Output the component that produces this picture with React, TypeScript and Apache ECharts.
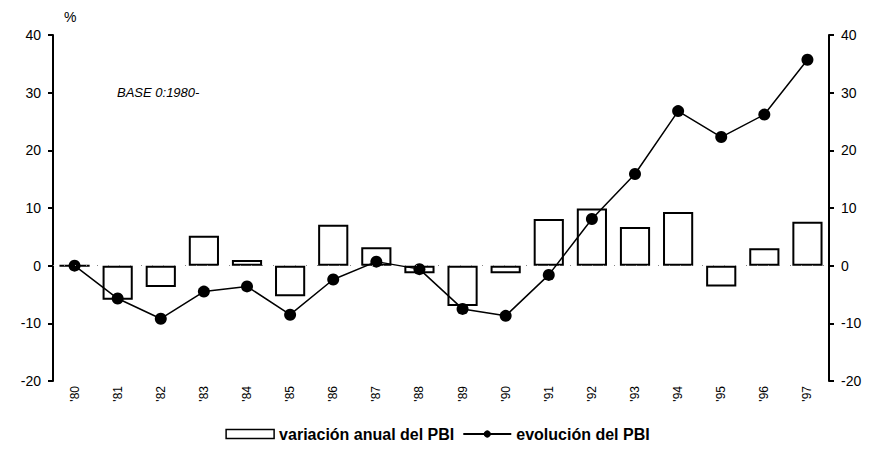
import React, { useEffect, useRef } from "react";
import * as echarts from "echarts";

const categories = ["'80", "'81", "'82", "'83", "'84", "'85", "'86", "'87", "'88", "'89", "'90", "'91", "'92", "'93", "'94", "'95", "'96", "'97"];
const variacionAnual = [0, -5.9, -3.7, 5.2, 1.0, -5.3, 7.1, 3.2, -1.3, -7.0, -1.3, 8.1, 9.9, 6.7, 9.3, -3.6, 3.0, 7.6];
const evolucion = [0, -5.7, -9.2, -4.5, -3.6, -8.5, -2.4, 0.7, -0.6, -7.5, -8.7, -1.6, 8.1, 15.9, 26.8, 22.3, 26.2, 35.7];

export default function App() {
  const ref = useRef<HTMLDivElement>(null);
  useEffect(() => {
    const chart = echarts.init(ref.current!, null, { renderer: "svg" });
    const font = "Liberation Sans, Arial, sans-serif";
    const yAxisBase = (pos: "left" | "right") => ({
      type: "value" as const,
      position: pos,
      min: -20,
      max: 40,
      interval: 10,
      axisLine: { show: true, lineStyle: { color: "#000", width: 2 } },
      axisTick: { show: true, length: 5, lineStyle: { color: "#000", width: 2 } },
      axisLabel: { color: "#000", fontSize: 14, fontFamily: font, margin: 12 },
      splitLine: { show: false },
    });
    chart.setOption({
      animation: false,
      backgroundColor: "#fff",
      grid: { left: 53, right: 46, top: 35, bottom: 69 },
      graphic: [
        { type: "text", left: 64, top: 10, style: { text: "%", fontSize: 14, fontFamily: font, fill: "#000" } },
        { type: "text", left: 117, top: 86, style: { text: "BASE 0:1980-", fontSize: 13, fontStyle: "italic", fontFamily: font, fill: "#000" } },
      ],
      legend: {
        bottom: 3,
        left: "center",
        itemGap: 8,
        itemWidth: 48,
        itemHeight: 9,
        textStyle: { color: "#000", fontSize: 16, fontWeight: "bold", fontFamily: font },
        data: [
          { name: "variación anual del PBI", icon: "rect", itemStyle: { color: "#fff", borderColor: "#000", borderWidth: 1.5 } },
          { name: "evolución del PBI" },
        ],
      },
      xAxis: {
        type: "category",
        data: categories,
        boundaryGap: true,
        axisLine: { show: false, onZero: false },
        axisTick: { show: false },
        axisLabel: { rotate: 90, color: "#000", fontSize: 12, fontFamily: font, margin: 5, interval: 0 },
      },
      yAxis: [yAxisBase("left"), yAxisBase("right")],
      series: [
        {
          name: "variación anual del PBI",
          type: "bar",
          data: variacionAnual,
          barWidth: "70%",
          itemStyle: { color: "#fff", borderColor: "#000", borderWidth: 2 },
          markLine: {
            silent: true,
            symbol: "none",
            label: { show: false },
            lineStyle: { color: "#888", type: [1, 10], width: 1 },
            data: [{ yAxis: 0 }],
          },
        },
        {
          name: "evolución del PBI",
          type: "line",
          data: evolucion,
          symbol: "circle",
          symbolSize: 12,
          itemStyle: { color: "#000" },
          lineStyle: { color: "#000", width: 1.5 },
        },
      ],
    });
    return () => chart.dispose();
  }, []);
  return <div ref={ref} style={{ width: 875, height: 450, position: "absolute", left: 0, top: 0 }} />;
}
